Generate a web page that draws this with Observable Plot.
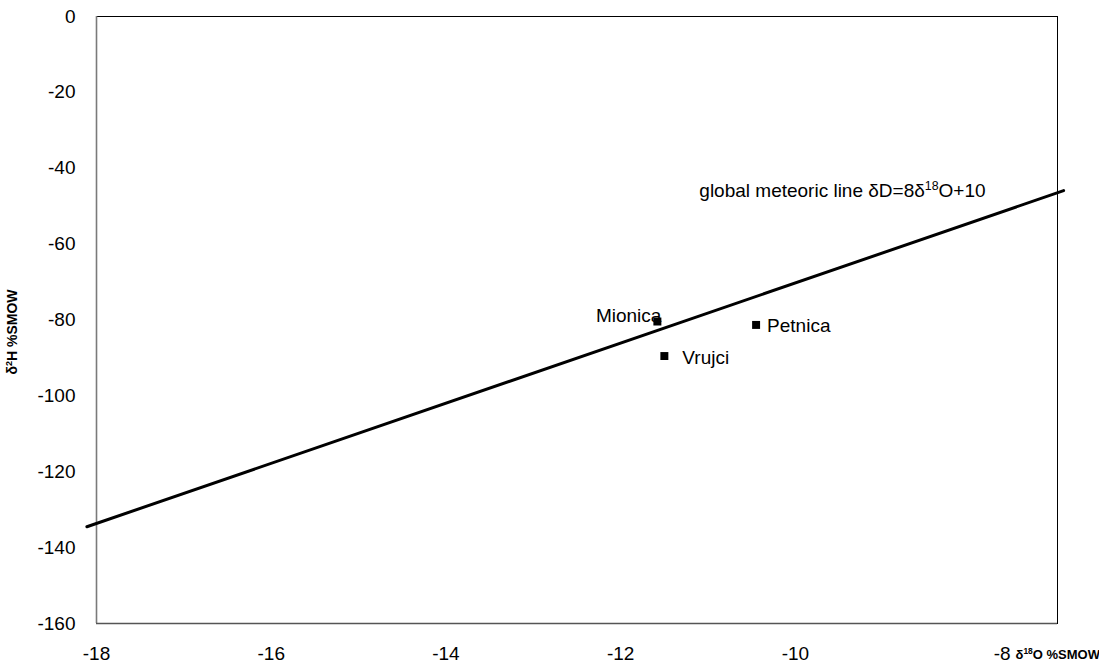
<!DOCTYPE html>
<html>
<head>
<meta charset="utf-8">
<script src="https://cdn.jsdelivr.net/npm/d3@7"></script>
<script src="https://cdn.jsdelivr.net/npm/@observablehq/plot@0.6"></script>
<style>
  html, body { margin: 0; padding: 0; background: white; }
</style>
</head>
<body>
<div id="chart"></div>
<script>
// ---- data ----
const sites = ["Mionica", "Petnica", "Vrujci"];
const d18O = [-11.58, -10.45, -11.50];
const d2H = [-80.4, -81.3, -89.5];
const gmwlX = [-18.11, -6.93];
const gmwlY = [-134.5, -45.9];
const gmwlLabel = "global meteoric line δD=8δ^{18}O+10";
const xTicks = [-18, -16, -14, -12, -10];
const xLastTick = [-8];
const yTicks = [0, -20, -40, -60, -80, -100, -120, -140, -160];
const xTitle = "δ^{18}O %SMOW";
const yTitle = "δ^{2}H %SMOW";

const points = sites.map((s, i) => ({site: s, x: d18O[i], y: d2H[i]}));
const line = gmwlX.map((x, i) => ({x, y: gmwlY[i]}));

const FONT = "'Liberation Sans', Arial, Helvetica, sans-serif";

const plot = Plot.plot({
  width: 1099,
  height: 666,
  marginLeft: 96,
  marginRight: 42,
  marginTop: 16,
  marginBottom: 43,
  style: {fontFamily: FONT, fontSize: "19px", background: "white", color: "black"},
  x: {domain: [-18, -7]},
  y: {domain: [-160, 0]},
  marks: [
    Plot.frame({stroke: "black", strokeWidth: 1}),
    Plot.ruleX([-18], {stroke: "#7a7a7a", strokeWidth: 1.6}),
    Plot.ruleY([-160], {stroke: "#555", strokeWidth: 1.6}),
    Plot.axisY(yTicks, {tickSize: 0, tickPadding: 21, fontSize: 19, label: null}),
    Plot.axisX(xTicks, {tickSize: 0, tickPadding: 23, fontSize: 19, label: null}),
    Plot.text(xLastTick, {x: d => d, frameAnchor: "bottom", lineAnchor: "top", dy: 23, dx: 32, text: d => String(d).replace("−", "-"), fontSize: 19}),
    Plot.line(line, {x: "x", y: "y", stroke: "black", strokeWidth: 3, clip: false}),
    Plot.dot(points, {x: "x", y: "y", symbol: "square", r: 4.5, fill: "black", stroke: "none"}),
    Plot.text([points[0]], {x: "x", y: "y", text: "site", textAnchor: "end", dx: 4, dy: -6, fontSize: 19}),
    Plot.text([points[1]], {x: "x", y: "y", text: "site", textAnchor: "start", dx: 11, dy: 1, fontSize: 19}),
    Plot.text([points[2]], {x: "x", y: "y", text: "site", textAnchor: "start", dx: 18, dy: 2, fontSize: 19}),
    Plot.text([gmwlLabel], {x: -11.1, y: -45.9, text: d => d, textAnchor: "start", fontSize: 19}),
    Plot.text([xTitle], {frameAnchor: "bottom-right", textAnchor: "start", lineAnchor: "middle", dx: -42, dy: 31, fontSize: 13, fontWeight: "bold", text: d => d}),
    Plot.text([yTitle], {frameAnchor: "left", rotate: -90, textAnchor: "middle", dx: -84, dy: 12, fontSize: 14, fontWeight: "bold", text: d => d})
  ]
});

// turn ^{..} markers into superscript tspans
function applySup(svg) {
  svg.querySelectorAll("text").forEach(t => {
    const s = t.textContent;
    if (!s.includes("^{")) return;
    const parts = s.split(/(\^\{[^}]*\})/);
    while (t.firstChild) t.removeChild(t.firstChild);
    parts.forEach(p => {
      if (!p) return;
      const ts = document.createElementNS("http://www.w3.org/2000/svg", "tspan");
      if (p.startsWith("^{")) {
        ts.textContent = p.slice(2, -1);
        ts.setAttribute("baseline-shift", "super");
        ts.setAttribute("font-size", "65%");
      } else {
        ts.textContent = p;
      }
      t.appendChild(ts);
    });
  });
}
applySup(plot);
// use hyphen-minus like the original tick labels
plot.querySelectorAll("text").forEach(t => {
  if (/^[−\-]?\d+$/.test(t.textContent)) t.textContent = t.textContent.replace("−", "-");
});
document.getElementById("chart").appendChild(plot);
</script>
</body>
</html>
